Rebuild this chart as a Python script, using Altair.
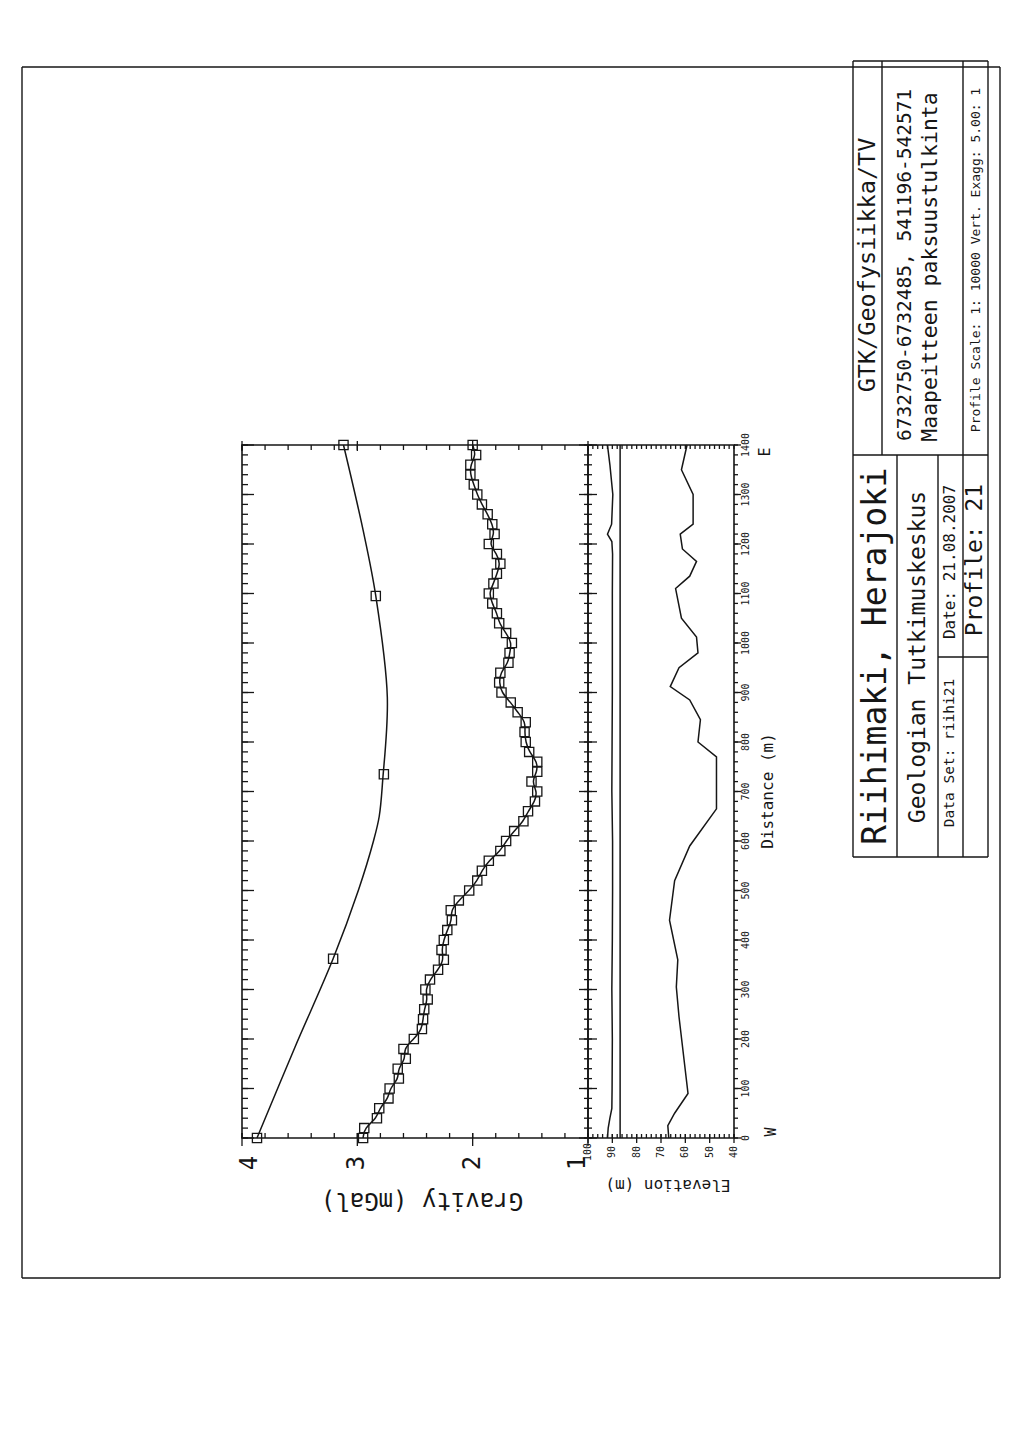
import altair as alt
import pandas as pd

FONT = "DejaVu Sans Mono"
INK = "#161616"
M = 8  # page margin of the html body


def P(v):
    return v - M


# ---------------- data ----------------
# observed gravity (mGal) every 20 m along the profile
obs_dist = list(range(0, 1401, 20))
obs_grav = [2.95, 2.94, 2.83, 2.81, 2.73, 2.72, 2.64, 2.65, 2.58, 2.60,
            2.51, 2.44, 2.43, 2.42, 2.39, 2.41, 2.37, 2.30, 2.25, 2.27,
            2.25, 2.22, 2.18, 2.19, 2.12, 2.03, 1.96, 1.92, 1.86, 1.76,
            1.71, 1.64, 1.56, 1.52, 1.46, 1.44, 1.49, 1.44, 1.44, 1.51,
            1.54, 1.55, 1.54, 1.61, 1.67, 1.75, 1.77, 1.76, 1.69, 1.68,
            1.66, 1.71, 1.77, 1.79, 1.83, 1.86, 1.82, 1.79, 1.76, 1.79,
            1.86, 1.81, 1.83, 1.87, 1.92, 1.96, 1.99, 2.02, 2.02, 1.97,
            2.00]

# regional field: marked points and the smooth curve through them
reg_pt_dist = [0, 362, 735, 1095, 1400]
reg_pt_grav = [3.87, 3.21, 2.77, 2.84, 3.12]
reg_curve_dist = [0, 184, 362, 501, 600, 650, 723, 891, 1095, 1228, 1400]
reg_curve_grav = [3.87, 3.54, 3.21, 2.99, 2.86, 2.81, 2.78, 2.74, 2.84, 2.95, 3.12]

# elevation panel (m)
surf_dist = [0, 20, 40, 60, 100, 200, 300, 400, 500, 600, 700, 800, 900,
             1000, 1100, 1180, 1205, 1220, 1240, 1300, 1360, 1400]
surf_elev = [92.0, 91.7, 91.0, 90.2, 90.1, 90.0, 90.2, 90.0, 89.9, 89.9, 90.2,
             90.1, 90.0, 90.0, 90.0, 89.9, 90.2, 92.0, 90.3, 89.8, 91.0, 92.0]
datum_dist = [0, 1400]
datum_elev = [86.8, 86.8]
bed_dist = [0, 25, 50, 90, 245, 305, 360, 440, 520, 590, 665, 770, 800, 845,
            885, 912, 950, 980, 1012, 1050, 1110, 1135, 1165, 1190, 1220, 1240,
            1300, 1350, 1400]
bed_elev = [66.8, 67.2, 64.4, 58.9, 62.6, 63.7, 63.1, 66.5, 64.4, 58.2, 47.2,
            47.2, 54.8, 53.8, 58.2, 66.2, 62.6, 54.8, 55.4, 61.6, 64.0, 58.2,
            55.4, 61.2, 62.1, 56.8, 56.8, 61.6, 59.3]

# axis ticks / labels
grav_labels = [4, 3, 2, 1]
grav_minor = [round(1 + 0.2 * i, 1) for i in range(16)]
elev_labels = [100, 90, 80, 70, 60, 50, 40]
elev_minor = list(range(40, 101, 2))
dist_labels = list(range(0, 1401, 100))
dist_minor = list(range(0, 1401, 20))

# ---------------- scales ----------------
xg = alt.Scale(domain=[4, 1], range=[P(242), P(588)])
xe = alt.Scale(domain=[100, 40], range=[P(588), P(734)])
yd = alt.Scale(domain=[0, 1400], range=[P(1138), P(445)])


def XG(f):
    return alt.X(f, type="quantitative", scale=xg, axis=None)


def XE(f):
    return alt.X(f, type="quantitative", scale=xe, axis=None)


def YD(f):
    return alt.Y(f, type="quantitative", scale=yd, axis=None)


one = alt.Data(values=[{"k": 0}])
layers = []


def hline(x1, x2, y, w=1.4):
    layers.append(alt.Chart(one).mark_rule(color=INK, strokeWidth=w).encode(
        x=alt.value(P(x1)), x2=alt.value(P(x2)), y=alt.value(P(y))))


def vline(x, y1, y2, w=1.4):
    layers.append(alt.Chart(one).mark_rule(color=INK, strokeWidth=w).encode(
        x=alt.value(P(x)), y=alt.value(P(y1)), y2=alt.value(P(y2))))


def label(s, x, y, size, angle=270):
    layers.append(alt.Chart(one).mark_text(
        font=FONT, fontSize=size, angle=angle, align="center",
        baseline="middle", color=INK).encode(
        x=alt.value(P(x)), y=alt.value(P(y)), text=alt.value(s)))


# ---------------- page border and title block ----------------
hline(22, 1000, 67); hline(22, 1000, 1278)
vline(22, 67, 1278); vline(1000, 67, 1278)

hline(853, 988, 61); hline(853, 988, 857); hline(853, 988, 455)
vline(853, 61, 857); vline(988, 61, 857); vline(963, 61, 857)
vline(882, 61, 455)
vline(897, 455, 857); vline(938, 455, 857)
hline(938, 988, 657)

label("GTK/Geofysiikka/TV", 868, 265, 23.5)
label("6732750-6732485, 541196-542571", 905, 265, 19.5)
label("Maapeitteen paksuustulkinta", 931, 267, 21.5)
label("Profile Scale:  1: 10000 Vert. Exagg:  5.00: 1", 976, 260, 13)
label("Riihimaki, Herajoki", 876, 656, 33)
label("Geologian Tutkimuskeskus", 918, 657, 23)
label("Data Set: riihi21", 950, 753, 14.5)
label("Date: 21.08.2007", 950, 562, 16)
label("Profile: 21", 975, 560, 23)

# ---------------- panel frames ----------------
frame_g = alt.Data(values=[{"a": 4, "b": 1, "c": 0, "d": 1400}])
frame_e = alt.Data(values=[{"a": 100, "b": 40, "c": 0, "d": 1400}])
layers.append(alt.Chart(frame_g).mark_rect(
    fill="transparent", stroke=INK, strokeWidth=1.6).encode(
    x=XG("a"), x2="b", y=YD("c"), y2="d"))
layers.append(alt.Chart(frame_e).mark_rect(
    fill="transparent", stroke=INK, strokeWidth=1.6).encode(
    x=XE("a"), x2="b", y=YD("c"), y2="d"))

# ---------------- ticks ----------------
gmin = pd.DataFrame({"g": grav_minor})
gmaj = pd.DataFrame({"g": grav_labels})
dmin = pd.DataFrame({"d": dist_minor})
dmaj = pd.DataFrame({"d": dist_labels})
emin = pd.DataFrame({"e": elev_minor})
emaj = pd.DataFrame({"e": elev_labels})


def tick(df, enc):
    layers.append(alt.Chart(df).mark_rule(color=INK, strokeWidth=1.3).encode(**enc))


tick(gmin, dict(x=XG("g"), y=alt.value(P(1138)), y2=alt.value(P(1133))))
tick(gmaj, dict(x=XG("g"), y=alt.value(P(1133)), y2=alt.value(P(1146))))
tick(gmin, dict(x=XG("g"), y=alt.value(P(445)), y2=alt.value(P(450))))
tick(gmaj, dict(x=XG("g"), y=alt.value(P(441)), y2=alt.value(P(451))))
tick(dmin, dict(y=YD("d"), x=alt.value(P(242)), x2=alt.value(P(248))))
tick(dmaj, dict(y=YD("d"), x=alt.value(P(242)), x2=alt.value(P(254))))
tick(dmin, dict(y=YD("d"), x=alt.value(P(584)), x2=alt.value(P(592))))
tick(dmaj, dict(y=YD("d"), x=alt.value(P(579)), x2=alt.value(P(597))))
tick(emin, dict(x=XE("e"), y=alt.value(P(1138)), y2=alt.value(P(1134))))
tick(emaj, dict(x=XE("e"), y=alt.value(P(1134)), y2=alt.value(P(1143))))
tick(emin, dict(x=XE("e"), y=alt.value(P(445)), y2=alt.value(P(449))))
tick(dmin, dict(y=YD("d"), x=alt.value(P(734)), x2=alt.value(P(738))))
tick(dmaj, dict(y=YD("d"), x=alt.value(P(734)), x2=alt.value(P(741))))

# ---------------- tick labels ----------------
for val, shift in zip(grav_labels, [8, 0, 0, -10]):
    layers.append(alt.Chart(pd.DataFrame({"g": [val], "t": [str(val)]})).mark_text(
        font=FONT, fontSize=24, angle=270, align="center", baseline="middle",
        dy=shift, color=INK).encode(x=XG("g"), y=alt.value(P(1163)), text="t:N"))

layers.append(alt.Chart(pd.DataFrame({"e": elev_labels, "t": [str(v) for v in elev_labels]})).mark_text(
    font=FONT, fontSize=10, angle=270, align="center", baseline="middle", color=INK).encode(
    x=XE("e"), y=alt.value(P(1152)), text="t:N"))

layers.append(alt.Chart(pd.DataFrame({"d": dist_labels, "t": [str(v) for v in dist_labels]})).mark_text(
    font=FONT, fontSize=10, angle=270, align="center", baseline="middle", color=INK).encode(
    y=YD("d"), x=alt.value(P(746)), text="t:N"))

# axis titles
label("Gravity (mGal)", 422, 1200, 24, angle=180)
label("Elevation (m)", 668, 1185, 16, angle=180)
label("Distance (m)", 768, 791, 16)
label("W", 771, 1132, 15)
label("E", 765, 452, 15)

# ---------------- gravity curves ----------------
reg_curve = pd.DataFrame({"d": reg_curve_dist, "g": reg_curve_grav})
reg_pts = pd.DataFrame({"d": reg_pt_dist, "g": reg_pt_grav})
obs = pd.DataFrame({"d": obs_dist, "g": obs_grav})

layers.append(alt.Chart(reg_curve).mark_line(
    color=INK, strokeWidth=1.5, interpolate="catmull-rom").encode(
    x=XG("g"), y=YD("d"), order="d:Q"))
layers.append(alt.Chart(obs).mark_line(
    color=INK, strokeWidth=1.5, interpolate="basis").encode(
    x=XG("g"), y=YD("d"), order="d:Q"))
for df in (reg_pts, obs):
    layers.append(alt.Chart(df).mark_point(
        shape="square", filled=False, size=85, color=INK, strokeWidth=1.3, opacity=1).encode(
        x=XG("g"), y=YD("d")))

# ---------------- elevation lines ----------------
for dd, ee in ((surf_dist, surf_elev), (datum_dist, datum_elev), (bed_dist, bed_elev)):
    layers.append(alt.Chart(pd.DataFrame({"d": dd, "e": ee})).mark_line(
        color=INK, strokeWidth=1.5).encode(x=XE("e"), y=YD("d"), order="d:Q"))

chart = alt.layer(*layers).resolve_scale(x="independent", y="independent").properties(
    width=1008, height=1432, padding=0,
    autosize=alt.AutoSizeParams(type="none"),
    background="white",
).configure_view(stroke=None)

chart.save("out.html", embed_options={"renderer": "svg", "actions": False})
